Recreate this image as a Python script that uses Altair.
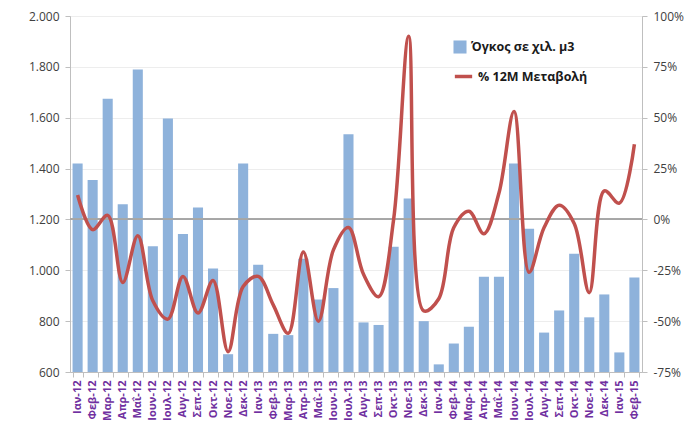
import altair as alt
import pandas as pd

months = ["Ιαν-12","Φεβ-12","Μαρ-12","Απρ-12","Μαΐ-12","Ιουν-12","Ιουλ-12","Αυγ-12","Σεπ-12","Οκτ-12","Νοε-12","Δεκ-12",
          "Ιαν-13","Φεβ-13","Μαρ-13","Απρ-13","Μαΐ-13","Ιουν-13","Ιουλ-13","Αυγ-13","Σεπ-13","Οκτ-13","Νοε-13","Δεκ-13",
          "Ιαν-14","Φεβ-14","Μαρ-14","Απρ-14","Μαΐ-14","Ιουν-14","Ιουλ-14","Αυγ-14","Σεπ-14","Οκτ-14","Νοε-14","Δεκ-14",
          "Ιαν-15","Φεβ-15"]
volume = [1420,1355,1675,1260,1790,1095,1597,1143,1247,1007,670,1420,
          1022,750,745,1045,885,930,1535,795,785,1093,1282,800,
          630,712,778,975,975,1420,1163,755,842,1065,815,905,
          677,972]
change = [12,-5,2,-31,-8,-40,-49,-28,-46,-30,-65,-33,
          -28,-42,-56,-16,-50,-15,-4,-27,-38,0,90,-45,
          -39,-4,4,-7,13,53,-26,-4,7,-2,-36,14,
          8,37]

bar_name = "Όγκος σε χιλ. μ3"
line_name = "% 12M Μεταβολή"
y_min = 600

df = pd.DataFrame({
    "month": months,
    "volume": volume,
    "change": [c / 100 for c in change],
    "s1": bar_name,
    "s2": line_name,
})

FONT = "Open Sans"
xenc = alt.X("month:N", sort=months, title=None,
             scale=alt.Scale(paddingInner=0.33, paddingOuter=0.17),
             axis=alt.Axis(labelAngle=270, labelColor="#7030A0", labelFontWeight="bold",
                           labelFontSize=11, labelFont=FONT, domainColor="#BFBFBF",
                           tickColor="#BFBFBF", tickBand="extent", tickSize=5,
                           labelPadding=3, zindex=1))

bars = alt.Chart(df).mark_bar().encode(
    x=xenc,
    y=alt.Y("volume:Q", title=None,
            scale=alt.Scale(domain=[600, 2000], nice=False, zero=False),
            axis=alt.Axis(values=[600,800,1000,1200,1400,1600,1800,2000],
                          labelExpr="replace(format(datum.value, ','), ',', '.')",
                          labelColor="#404040", labelFontSize=12, labelFont=FONT,
                          gridColor="#EDEDED", domainColor="#BFBFBF", tickColor="#BFBFBF",
                          tickSize=5, labelPadding=6)),
    y2=alt.datum(y_min),
    fill=alt.Fill("s1:N", scale=alt.Scale(domain=[bar_name], range=["#8EB2DB"]),
                  legend=alt.Legend(title=None, orient="none", legendX=383, legendY=24,
                                    symbolType="square", symbolSize=170,
                                    labelFontSize=12.5, labelFont=FONT, labelFontWeight="bold",
                                    labelColor="#1A1A1A", symbolStrokeWidth=0)),
)

zero_rule = alt.Chart(df).mark_rule(color="#A6A6A6", strokeWidth=1.2).encode(
    y=alt.datum(1200)
)

line = alt.Chart(df).mark_line(interpolate="catmull-rom", strokeWidth=3.5).encode(
    x=xenc,
    y=alt.Y("change:Q", title=None,
            scale=alt.Scale(domain=[-0.75, 1.0], nice=False, zero=False),
            axis=alt.Axis(orient="right", values=[-0.75,-0.5,-0.25,0,0.25,0.5,0.75,1.0],
                          labelExpr="round(datum.value*100) + '%'", grid=False,
                          labelColor="#404040", labelFontSize=12, labelFont=FONT,
                          domainColor="#BFBFBF", tickColor="#BFBFBF", tickSize=5,
                          labelPadding=6)),
    stroke=alt.Stroke("s2:N", scale=alt.Scale(domain=[line_name], range=["#C0504D"]),
                      legend=alt.Legend(title=None, orient="none", legendX=383, legendY=50,
                                        symbolType="stroke", symbolStrokeWidth=3.5, symbolSize=300,
                                        labelFontSize=12.5, labelFont=FONT, labelFontWeight="bold",
                                        labelColor="#1A1A1A")),
)

left = alt.layer(bars, zero_rule)
chart = alt.layer(left, line).resolve_scale(y="independent", fill="independent", stroke="independent").properties(
    width=572, height=356,
    autosize=alt.AutoSizeParams(type="none"),
    padding={"left": 62, "top": 8, "right": 45, "bottom": 50},
).configure_view(stroke=None).configure(background="white")

chart.save("out.html", embed_options={"renderer": "svg", "actions": False})
